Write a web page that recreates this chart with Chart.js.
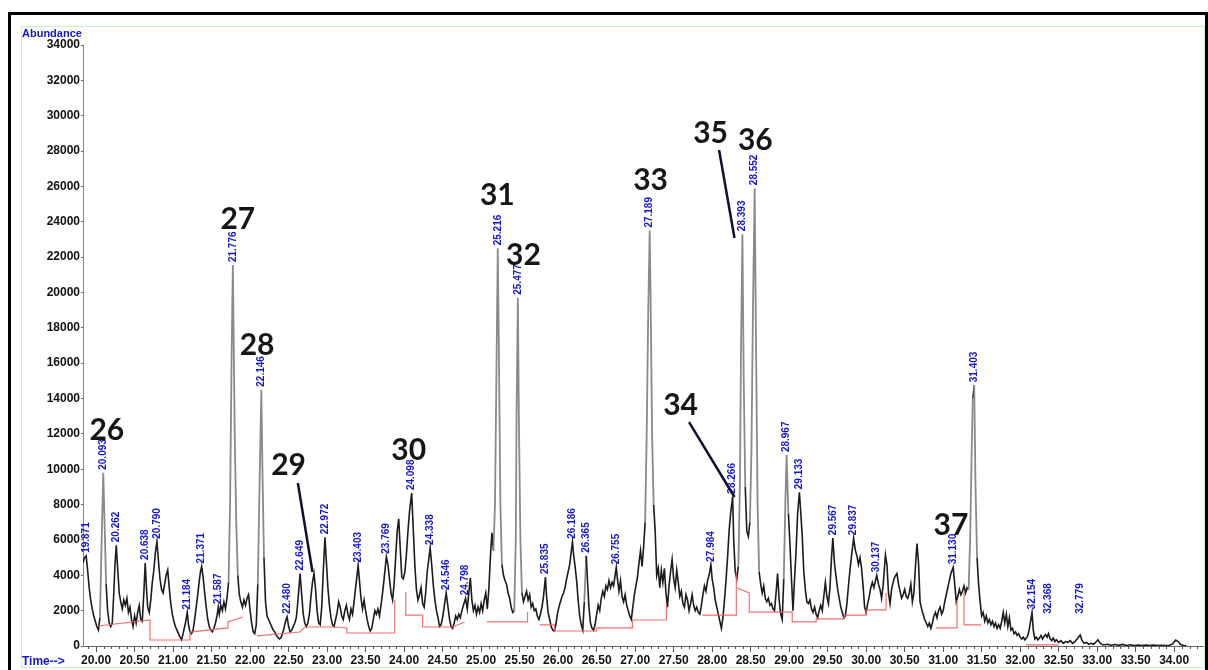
<!DOCTYPE html>
<html>
<head>
<meta charset="utf-8">
<script src="https://cdn.jsdelivr.net/npm/chart.js@4.4.1/dist/chart.umd.min.js"></script>
<style>
  html, body { margin: 0; padding: 0; background: #fff; }
  #wrap { position: relative; width: 1208px; height: 670px; }
</style>
</head>
<body>
<div id="wrap"><canvas id="c" width="1208" height="670"></canvas></div>
<script>
// Total ion chromatogram: [retention time (min), abundance]
const tic = [
  [19.83,4700],[19.85,5000],[19.871,5100],[19.89,4300],[19.91,3300],[19.93,2600],[19.95,2100],[19.97,1700],[19.99,1400],[20.01,1100],
  [20.03,900],[20.05,1600],[20.07,5500],[20.093,9800],[20.11,7000],[20.13,3500],[20.15,2000],[20.17,1300],[20.19,1100],[20.21,1300],
  [20.23,3000],[20.245,4600],[20.262,5700],[20.28,4400],[20.30,3000],[20.32,2500],[20.34,2100],[20.36,2600],[20.38,2300],[20.40,2700],
  [20.42,1900],[20.44,2200],[20.46,1500],[20.48,1100],[20.50,1700],[20.52,1300],[20.54,1900],[20.56,2300],[20.58,1500],[20.60,1400],
  [20.62,3000],[20.638,4700],[20.655,3200],[20.67,2200],[20.69,1900],[20.71,2600],[20.73,3600],[20.75,4300],[20.77,5300],[20.790,5900],
  [20.81,4800],[20.83,3800],[20.85,3200],[20.87,3000],[20.89,3500],[20.91,4000],[20.93,4300],[20.95,3300],[20.97,2400],[20.99,1800],
  [21.01,1400],[21.03,1100],[21.05,900],[21.07,700],[21.09,500],[21.11,350],[21.13,700],[21.16,1300],[21.184,1900],[21.20,1200],
  [21.22,800],[21.24,700],[21.26,900],[21.28,1500],[21.30,2200],[21.32,2900],[21.34,3700],[21.356,4200],[21.371,4500],[21.39,3900],
  [21.41,3000],[21.43,2200],[21.45,1500],[21.47,1100],[21.49,900],[21.51,800],[21.53,1000],[21.55,1300],[21.57,1700],[21.587,2200],
  [21.60,1800],[21.62,2300],[21.64,2000],[21.66,2500],[21.68,2100],[21.70,2700],[21.72,3600],[21.74,8000],[21.76,16500],[21.776,21550],
  [21.79,16000],[21.80,12000],[21.82,7000],[21.84,4000],[21.86,2900],[21.88,2500],[21.90,2200],[21.92,2600],[21.94,2300],[21.96,2700],
  [21.98,2900],[22.00,2000],[22.02,1300],[22.04,800],[22.06,700],[22.08,1200],[22.10,3500],[22.12,8500],[22.146,14500],[22.16,10000],
  [22.18,5000],[22.20,2500],[22.22,1700],[22.24,1500],[22.26,1300],[22.28,1100],[22.30,900],[22.32,800],[22.34,600],[22.36,500],
  [22.38,400],[22.40,450],[22.42,700],[22.44,1000],[22.46,1400],[22.480,1650],[22.50,1100],[22.52,800],[22.54,900],[22.56,1100],
  [22.58,1300],[22.60,1600],[22.62,2500],[22.649,4100],[22.67,2900],[22.69,1800],[22.71,1300],[22.73,1100],[22.75,1300],[22.77,1800],
  [22.79,2800],[22.81,3600],[22.83,4100],[22.85,3200],[22.87,2000],[22.89,1300],[22.91,1200],[22.93,2200],[22.95,4200],[22.972,6150],
  [22.99,4800],[23.01,3300],[23.03,2300],[23.05,1600],[23.07,1200],[23.09,1100],[23.11,1500],[23.13,1900],[23.15,2500],[23.17,2200],
  [23.19,1700],[23.21,1500],[23.23,2000],[23.25,2300],[23.27,1800],[23.29,1500],[23.31,2100],[23.33,1800],[23.35,2500],[23.37,3300],
  [23.403,4550],[23.42,3700],[23.44,2700],[23.46,2100],[23.48,2600],[23.50,2000],[23.52,1500],[23.54,1100],[23.56,850],[23.58,1000],
  [23.60,1500],[23.62,2000],[23.64,1800],[23.66,2100],[23.68,1700],[23.70,2300],[23.72,3000],[23.74,3800],[23.769,5050],[23.79,4600],
  [23.81,3800],[23.83,3000],[23.85,2600],[23.87,3500],[23.89,5000],[23.91,6500],[23.93,7200],[23.95,5500],[23.97,3900],[23.99,3800],
  [24.01,4200],[24.03,5200],[24.05,6500],[24.07,7600],[24.098,8650],[24.12,6500],[24.14,4500],[24.16,3200],[24.18,2600],[24.20,2900],
  [24.22,3300],[24.24,2400],[24.26,2200],[24.28,3000],[24.30,4200],[24.338,5550],[24.36,4500],[24.38,3400],[24.40,2600],[24.42,2000],
  [24.44,1600],[24.46,1100],[24.48,1200],[24.50,1600],[24.52,2200],[24.546,3000],[24.57,2200],[24.59,1500],[24.61,1100],[24.63,1000],
  [24.65,1300],[24.67,1700],[24.69,1500],[24.71,1800],[24.73,1600],[24.75,2000],[24.77,2300],[24.798,2700],[24.82,2100],[24.84,3000],
  [24.86,3850],[24.88,2600],[24.90,2000],[24.92,2300],[24.94,1800],[24.96,2200],[24.98,1900],[25.00,2400],[25.02,2000],[25.04,2600],
  [25.06,3000],[25.08,2100],[25.10,3200],[25.12,5000],[25.14,6400],[25.16,5400],[25.18,8000],[25.20,16000],[25.216,22500],[25.23,17000],
  [25.25,8000],[25.27,4600],[25.29,4000],[25.31,3700],[25.33,3500],[25.35,3000],[25.37,2700],[25.39,2200],[25.41,1900],[25.43,2000],
  [25.45,6000],[25.46,13000],[25.477,19700],[25.49,13000],[25.51,6000],[25.53,3000],[25.55,2500],[25.57,2800],[25.59,3100],[25.61,2600],
  [25.63,2900],[25.65,2200],[25.67,2400],[25.69,2000],[25.71,2100],[25.73,1700],[25.75,1500],[25.77,1800],[25.79,2200],[25.81,2800],
  [25.835,3900],[25.85,2800],[25.87,1900],[25.89,1500],[25.91,1100],[25.93,900],[25.95,850],[25.97,1200],[25.99,1800],[26.01,2200],
  [26.03,2500],[26.05,2800],[26.07,3000],[26.09,3300],[26.11,3800],[26.13,4200],[26.15,4600],[26.186,5900],[26.20,5200],[26.22,4500],
  [26.24,3700],[26.26,2600],[26.28,1700],[26.30,1200],[26.32,900],[26.34,2500],[26.365,5100],[26.38,3800],[26.40,2200],[26.42,1300],
  [26.44,1000],[26.46,900],[26.48,1200],[26.50,1800],[26.52,2300],[26.54,2000],[26.56,2700],[26.58,3100],[26.60,2800],[26.62,3400],
  [26.64,3200],[26.66,3700],[26.68,3300],[26.70,3600],[26.72,3400],[26.755,4450],[26.77,3800],[26.79,3100],[26.81,3700],[26.83,2800],
  [26.85,2500],[26.87,2900],[26.89,2300],[26.91,2000],[26.93,1700],[26.95,1500],[26.97,2200],[26.99,2900],[27.01,3400],[27.03,3900],
  [27.05,4700],[27.07,5400],[27.09,4500],[27.11,5600],[27.13,7000],[27.15,12000],[27.17,19000],[27.189,23500],[27.20,20000],[27.22,12000],
  [27.24,8000],[27.26,6500],[27.28,4000],[27.30,4400],[27.32,3300],[27.34,4300],[27.36,3600],[27.38,4400],[27.40,3000],[27.42,2200],
  [27.44,3400],[27.46,4200],[27.48,4900],[27.50,3800],[27.52,3300],[27.54,4300],[27.56,3600],[27.58,2800],[27.60,3100],[27.62,2400],
  [27.64,2200],[27.66,2900],[27.68,2600],[27.70,2000],[27.72,2400],[27.74,2900],[27.76,2300],[27.78,2000],[27.80,2200],[27.82,1900],
  [27.84,1800],[27.86,2300],[27.88,2900],[27.90,3400],[27.92,3100],[27.94,3700],[27.96,4000],[27.984,4600],[28.00,3800],[28.02,3300],
  [28.04,2600],[28.06,2200],[28.08,1800],[28.10,1400],[28.12,1000],[28.14,1600],[28.16,2600],[28.18,3700],[28.20,5000],[28.22,6500],
  [28.24,7500],[28.266,8450],[28.28,6000],[28.30,4200],[28.32,3800],[28.34,4500],[28.36,9000],[28.375,17000],[28.393,23300],[28.41,15000],
  [28.43,9000],[28.45,6500],[28.47,6200],[28.49,7000],[28.51,11000],[28.53,19000],[28.552,25900],[28.57,17000],[28.59,8000],[28.61,4200],
  [28.63,3500],[28.65,3000],[28.67,3400],[28.69,2700],[28.71,2500],[28.73,2700],[28.75,2300],[28.77,2400],[28.79,2100],[28.81,2000],
  [28.83,3000],[28.85,4100],[28.87,2600],[28.89,1800],[28.91,1500],[28.93,3800],[28.95,8000],[28.967,10800],[28.99,7500],[29.01,5800],
  [29.03,3800],[29.05,2000],[29.07,3800],[29.09,5400],[29.11,7500],[29.133,8700],[29.15,7600],[29.17,6200],[29.19,4200],[29.21,3200],
  [29.23,2500],[29.25,2400],[29.27,2600],[29.29,2100],[29.31,1900],[29.33,2200],[29.35,1800],[29.37,1600],[29.39,2000],[29.41,2300],
  [29.43,2000],[29.45,2800],[29.47,3600],[29.49,2800],[29.51,2400],[29.53,3300],[29.55,5000],[29.567,6100],[29.59,4600],[29.61,3900],
  [29.63,3200],[29.65,2700],[29.67,2200],[29.69,1900],[29.71,1600],[29.73,1700],[29.75,2400],[29.77,3400],[29.79,4300],[29.81,5100],
  [29.837,6100],[29.86,5400],[29.88,5100],[29.90,4600],[29.92,5000],[29.94,4400],[29.96,3400],[29.98,2200],[30.00,1900],[30.02,2400],
  [30.04,2800],[30.06,3300],[30.08,3600],[30.10,3300],[30.137,4000],[30.16,3500],[30.18,3200],[30.20,2700],[30.22,3400],[30.25,5150],
  [30.27,4600],[30.29,3000],[30.31,2400],[30.33,3200],[30.35,3600],[30.37,3900],[30.40,4100],[30.42,3500],[30.44,3100],[30.46,2700],
  [30.48,2900],[30.50,3200],[30.52,2800],[30.54,2700],[30.56,3000],[30.58,3500],[30.60,2500],[30.62,3000],[30.64,4500],[30.66,5800],
  [30.68,4700],[30.70,2500],[30.72,2100],[30.74,1800],[30.76,1500],[30.78,1300],[30.80,1100],[30.82,1300],[30.84,1000],[30.86,1300],
  [30.88,1700],[30.90,1900],[30.92,1600],[30.94,2000],[30.96,2200],[30.98,1800],[31.00,2000],[31.02,2500],[31.04,2900],[31.06,3300],
  [31.08,3700],[31.10,4100],[31.130,4450],[31.15,3500],[31.17,2500],[31.19,2800],[31.21,3200],[31.23,2900],[31.25,3100],[31.27,3400],
  [31.29,3000],[31.31,3300],[31.33,3200],[31.35,6000],[31.37,11000],[31.385,14000],[31.403,14750],[31.42,9000],[31.44,5000],[31.46,3500],
  [31.48,2500],[31.50,1700],[31.52,1900],[31.54,1400],[31.56,1700],[31.58,1300],[31.60,1500],[31.62,1200],[31.64,1400],[31.66,1100],
  [31.68,1300],[31.70,1000],[31.72,1200],[31.74,1000],[31.76,1400],[31.78,1900],[31.80,1300],[31.82,1800],[31.84,1100],[31.86,1600],
  [31.88,900],[31.90,1000],[31.92,700],[31.94,800],[31.96,600],[31.98,700],[32.00,500],[32.02,400],[32.04,500],[32.06,350],
  [32.08,450],[32.10,600],[32.12,1000],[32.154,1900],[32.17,900],[32.19,400],[32.21,500],[32.23,350],[32.25,450],[32.27,600],
  [32.29,400],[32.31,550],[32.33,650],[32.35,500],[32.368,700],[32.39,400],[32.41,300],[32.43,450],[32.45,250],[32.47,350],
  [32.50,200],[32.53,300],[32.56,150],[32.59,250],[32.62,200],[32.65,300],[32.68,150],[32.71,250],[32.74,400],[32.779,620],
  [32.80,350],[32.83,150],[32.86,200],[32.89,100],[32.92,150],[32.95,100],[32.98,200],[33.01,350],[33.04,150],[33.08,60],
  [33.13,100],[33.18,40],[33.23,80],[33.28,40],[33.33,90],[33.38,30],[33.43,70],[33.48,30],[33.53,60],[33.58,20],
  [33.63,50],[33.68,20],[33.73,50],[33.78,20],[33.83,40],[33.88,20],[33.93,30],[33.98,120],[34.02,330],[34.05,250],
  [34.08,100],[34.12,30],[34.16,10]
];

// Integration baselines (null = break between segments)
const integrationBaseline = [
  [20.026,1130],[20.700,1470],[20.700,340],[21.219,340],[21.219,790],[21.712,1020],[21.712,1360],[21.907,1640],[21.95,null],
  [22.088,570],[22.646,790],[22.711,1075],[23.126,1075],[23.256,1020],[23.256,735],[23.878,735],[23.878,2600],[23.95,null],
  [24.021,3050],[24.021,1750],[24.241,1750],[24.241,1075],[24.630,1075],[24.786,1360],[24.90,null],
  [25.071,1360],[25.603,1360],[25.603,1920],[25.65,null],
  [25.759,1190],[25.953,1190],[25.953,850],[26.498,850],[26.498,1020],[26.965,1020],[26.965,1470],[27.406,1470],[27.406,2380],[27.50,null],
  [27.873,1750],[28.314,1750],[28.314,4190],[28.32,null],
  [28.327,3280],[28.482,3000],[28.482,1920],[29.040,1920],[29.040,1360],[29.351,1360],[29.351,1530],[29.715,1530],[29.715,1750],
  [30.000,1750],[30.000,2040],[30.259,2040],[30.259,3000],[30.30,null],
  [30.908,1020],[31.180,1020],[31.180,2600],[31.22,null],
  [31.271,3170],[31.271,1190],[31.492,1190],[31.60,null],
  [32.075,60],[32.503,60]
];

// Retention times of the labelled peaks (min)
const peakTimes = [
  19.871, 20.093, 20.262, 20.638, 20.790, 21.184, 21.371, 21.587, 21.776, 22.146,
  22.480, 22.649, 22.972, 23.403, 23.769, 24.098, 24.338, 24.546, 24.798, 25.216,
  25.477, 25.835, 26.186, 26.365, 26.755, 27.189, 27.984, 28.266, 28.393, 28.552,
  28.967, 29.133, 29.567, 29.837, 30.137, 31.130, 31.403, 32.154, 32.368, 32.779
];

// Axis tick values
const timeTicks = [20.0,20.5,21.0,21.5,22.0,22.5,23.0,23.5,24.0,24.5,25.0,25.5,26.0,26.5,27.0,
                   27.5,28.0,28.5,29.0,29.5,30.0,30.5,31.0,31.5,32.0,32.5,33.0,33.5,34.0];
const abundanceTicks = [0,2000,4000,6000,8000,10000,12000,14000,16000,18000,20000,
                        22000,24000,26000,28000,30000,32000,34000];

// Compound numbers written over the peaks, with optional leader lines
const compoundIds = ['26','27','28','29','30','31','32','33','34','35','36','37'];
const compoundNotes = [
  { at: [20.14, 12220] },
  { at: [21.84, 24150] },
  { at: [22.09, 17030] },
  { at: [22.50, 10240], leader: [[22.62, 9220], [22.81, 4190]] },
  { at: [24.06, 11090] },
  { at: [25.21, 25510] },
  { at: [25.55, 22120] },
  { at: [27.20, 26360] },
  { at: [27.59, 13630], leader: [[27.70, 12670], [28.29, 8430]] },
  { at: [27.98, 29020], leader: [[28.09, 28060], [28.29, 23080]] },
  { at: [28.56, 28620] },
  { at: [31.10, 6845] }
];

const FONT = "'Liberation Sans', Arial, sans-serif";
const BLUE = '#1414c8';

const abundanceAt = t => {
  const p = tic.find(d => d[0] === t);
  return p ? p[1] : 0;
};

// flanks of the tall peaks render lighter, the noisy floor stays dark
const steep = c => {
  const dy = Math.abs(c.p1.y - c.p0.y);
  return dy > 45 && dy > 8 * Math.abs(c.p1.x - c.p0.x);
};

const decorations = {
  id: 'decorations',
  afterDraw(chart) {
    const { ctx, scales: { x, y }, chartArea } = chart;
    ctx.save();

    // minor time ticks every 0.1 min
    ctx.strokeStyle = '#555';
    ctx.lineWidth = 1;
    ctx.beginPath();
    for (let i = 199; i <= 344; i++) {
      const t = i / 10;
      if (i % 5 === 0) continue;
      const px = Math.round(x.getPixelForValue(t)) + 0.5;
      if (px < chartArea.left || px > chartArea.right) continue;
      ctx.moveTo(px, chartArea.bottom);
      ctx.lineTo(px, chartArea.bottom + 3);
    }
    ctx.stroke();

    // retention-time labels above the peaks
    ctx.fillStyle = BLUE;
    ctx.font = 'bold 10px ' + FONT;
    ctx.textAlign = 'left';
    ctx.textBaseline = 'middle';
    peakTimes.forEach(t => {
      const v = Math.max(abundanceAt(t), 1650);
      const px = x.getPixelForValue(t);
      const py = y.getPixelForValue(v) - 3;
      ctx.save();
      ctx.translate(px, py);
      ctx.rotate(-Math.PI / 2);
      ctx.fillText(t.toFixed(3), 0, 0);
      ctx.restore();
    });

    // compound numbers and leader lines
    ctx.fillStyle = '#161616';
    ctx.font = "bold 30px Lato, 'Open Sans', sans-serif";
    ctx.textAlign = 'center';
    ctx.textBaseline = 'middle';
    compoundNotes.forEach((n, i) => {
      ctx.fillText(compoundIds[i], x.getPixelForValue(n.at[0]), y.getPixelForValue(n.at[1]));
      if (n.leader) {
        ctx.strokeStyle = '#101030';
        ctx.lineWidth = 2.5;
        ctx.beginPath();
        ctx.moveTo(x.getPixelForValue(n.leader[0][0]), y.getPixelForValue(n.leader[0][1]));
        ctx.lineTo(x.getPixelForValue(n.leader[1][0]), y.getPixelForValue(n.leader[1][1]));
        ctx.stroke();
      }
    });

    // axis captions
    ctx.fillStyle = BLUE;
    ctx.textAlign = 'left';
    ctx.textBaseline = 'alphabetic';
    ctx.font = 'bold 11px ' + FONT;
    ctx.fillText('Abundance', 22, 37);
    ctx.font = 'bold 12px ' + FONT;
    ctx.fillText('Time-->', 22, 665);

    // outer frames
    ctx.strokeStyle = '#c8efc8';
    ctx.lineWidth = 1;
    ctx.strokeRect(21.5, 26.5, 1183, 641);
    ctx.strokeStyle = '#000';
    ctx.lineWidth = 3;
    ctx.strokeRect(9.5, 13.5, 1197, 662);

    ctx.restore();
  }
};

new Chart(document.getElementById('c'), {
  type: 'line',
  data: {
    datasets: [
      {
        label: 'TIC',
        data: tic.map(d => ({ x: d[0], y: d[1] })),
        borderColor: '#1c1c1c',
        borderWidth: 1.6,
        segment: {
          borderColor: c => steep(c) ? '#8a8a8a' : '#1c1c1c',
          borderWidth: c => steep(c) ? 1.8 : 1.6
        },
        pointRadius: 0,
        tension: 0,
        order: 2
      },
      {
        label: 'Baseline',
        data: integrationBaseline.map(d => ({ x: d[0], y: d[1] })),
        borderColor: 'rgba(236,96,96,0.9)',
        borderWidth: 1.2,
        pointRadius: 0,
        tension: 0,
        spanGaps: false,
        order: 1
      }
    ]
  },
  options: {
    responsive: false,
    animation: false,
    layout: { padding: { left: 0, top: 45, right: 3, bottom: 0 } },
    plugins: { legend: { display: false }, tooltip: { enabled: false } },
    scales: {
      x: {
        type: 'linear',
        min: 19.83,
        max: 34.40,
        afterBuildTicks: s => { s.ticks = timeTicks.map(v => ({ value: v })); },
        afterFit: s => { s.height = 24; },
        ticks: {
          color: '#111',
          font: { family: FONT, size: 12, weight: 'bold' },
          padding: 1,
          maxRotation: 0,
          autoSkip: false,
          callback: v => v.toFixed(2)
        },
        grid: { drawOnChartArea: false, tickLength: 6, color: '#555' },
        border: { color: '#666' }
      },
      y: {
        min: 0,
        max: 34000,
        afterBuildTicks: s => { s.ticks = abundanceTicks.map(v => ({ value: v })); },
        afterFit: s => { s.width = 83; },
        ticks: {
          color: '#111',
          font: { family: FONT, size: 12, weight: 'bold' },
          padding: 1,
          autoSkip: false,
          callback: v => String(v)
        },
        grid: { drawOnChartArea: false, tickLength: 2, color: '#666' },
        border: { color: '#888' }
      }
    }
  },
  plugins: [decorations]
});
</script>
</body>
</html>
